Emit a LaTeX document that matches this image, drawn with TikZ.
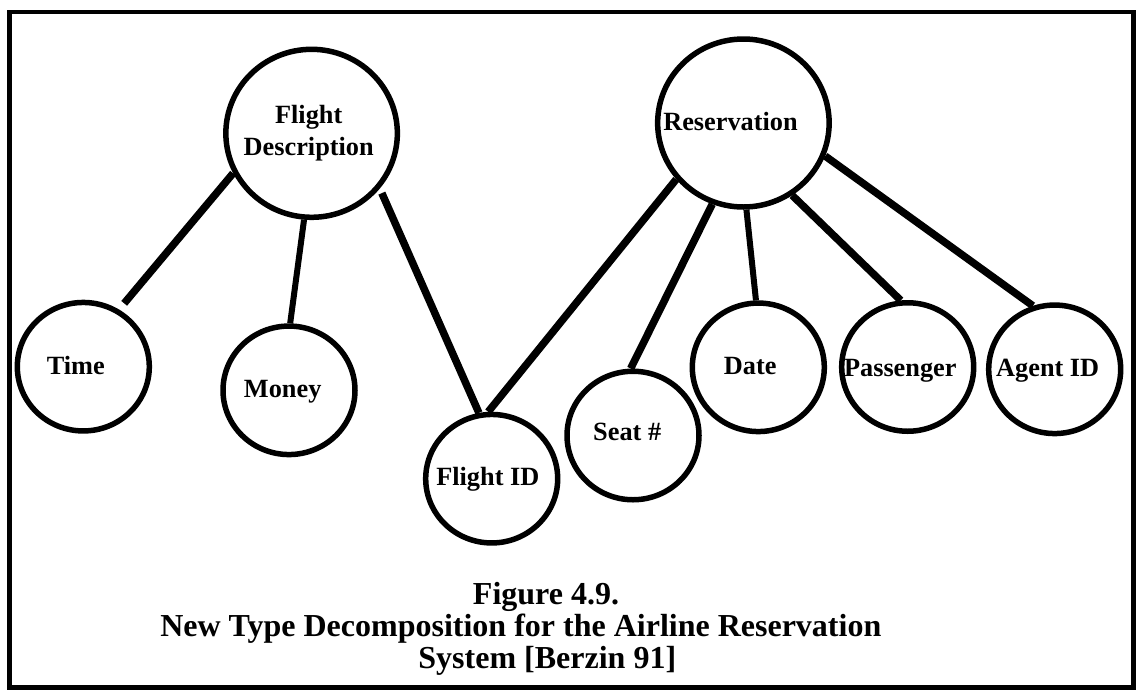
\documentclass[tikz,border=0pt]{standalone}
\usepackage{fontspec}
\setmainfont{Liberation Serif}
\usetikzlibrary{shapes.geometric}
\begin{document}
\begin{tikzpicture}[x=1pt,y=-1pt,
  bubble/.style={draw, ellipse, line width=5.5pt, inner sep=0pt,
                 minimum width=132pt, minimum height=128.5pt},
  bigbubble/.style={bubble, minimum width=171.5pt, minimum height=168pt},
  lbl/.style={anchor=base, inner sep=0pt, font=\fontsize{26.3}{30}\selectfont\bfseries},
  caption/.style={anchor=base, inner sep=0pt, font=\fontsize{32}{36}\selectfont\bfseries},
  link/.style={line width=7.5pt},
  thinlink/.style={line width=6pt},
  frame/.style={line width=4.5pt}]
\useasboundingbox (0,0) rectangle (1136,689);

% outer frame
\draw[frame] (9.3,12) rectangle (1133.5,687.5);

% parent types
\node[bigbubble] (fd)  at (311.6,133.3) {};
\node[bigbubble] (res) at (743.4,123) {};

% component types
\node[bubble] (time)  at (83.3,366.7)  {};
\node[bubble] (money) at (289,390.3)   {};
\node[bubble] (fid)   at (491.7,478.7) {};
\node[bubble] (seat)  at (633,435.5)   {};
\node[bubble] (date)  at (758.3,367.3) {};
\node[bubble] (pass)  at (907.7,367)   {};
\node[bubble] (agent) at (1054.7,369.3) {};

% labels
\node[lbl] (fd-a)    at (308.7,123.3) {Flight};
\node[lbl] (fd-b)    at (308.7,155)   {Description};
\node[lbl] (res-t)   at (730.5,130.7) {Reservation};
\node[lbl] (time-t)  at (75.8,374)    {Time};
\node[lbl] (money-t) at (282.7,397.3) {Money};
\node[lbl] (fid-t)   at (487.8,485)   {Flight ID};
\node[lbl] (seat-t)  at (627.2,440)   {Seat \#};
\node[lbl] (date-t)  at (750.2,374)   {Date};
\node[lbl] (pass-t)  at (900.3,376)   {Passenger};
\node[lbl] (agent-t) at (1047.7,376)  {Agent ID};

% decomposition links
\draw[link, shorten >=8pt] (fd.207.2) -- (time.58.8);
\draw[thinlink] (fd.265.1) -- (money.89.1);
\draw[link, shorten <=5pt] (fd.321.1) -- (fid.101.6);
\draw[link] (res.220.3) -- (fid.93);
\draw[link] (res.249.7) -- (seat.92.9);
\draw[thinlink] (res.272.4) -- (date.92.1);
\draw[link] (res.304.7) -- (pass.96.4);
\draw[link] (res.338) -- (agent.109.2);

% caption
\node[caption] (cap1) at (546,604.5) {Figure 4.9.};
\node[caption] (cap2) at (520.8,636.5) {New Type Decomposition for the Airline Reservation};
\node[caption] (cap3) at (547.3,668) {System [Berzin 91]};
\end{tikzpicture}
\end{document}
